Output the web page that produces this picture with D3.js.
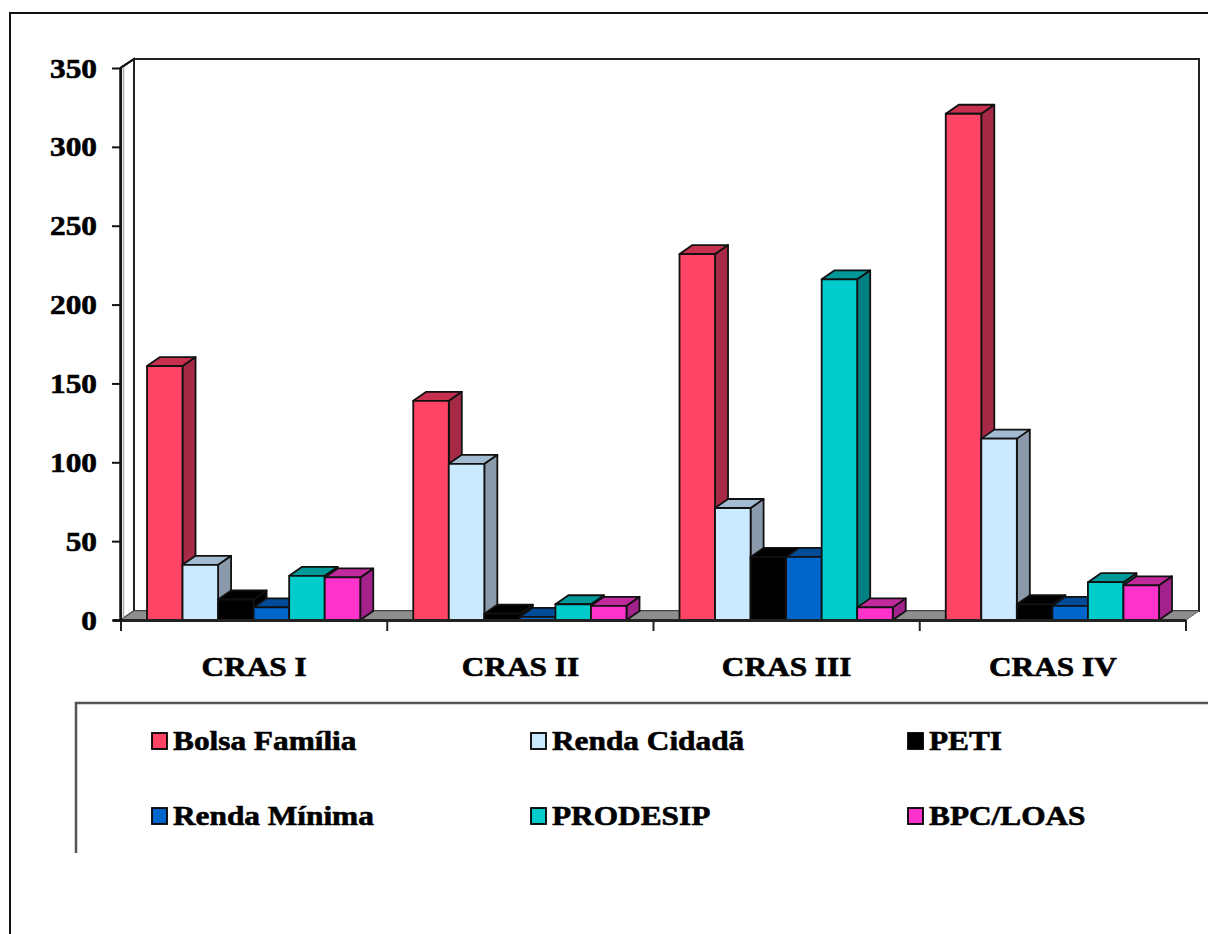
<!DOCTYPE html>
<html lang="pt">
<head>
    <meta charset="UTF-8">
    <title>CRAS - Programas</title>
    <script src="https://cdnjs.cloudflare.com/ajax/libs/d3/7.8.5/d3.min.js"></script>
    <style>
        * { margin: 0; padding: 0; box-sizing: border-box; }
        body { background: #fff; }
        text {
            font-family: "Liberation Serif", "Times New Roman", serif;
            font-weight: bold;
            font-size: 27px;
            fill: #000;
            stroke: #000;
            stroke-width: 0.6px;
        }
    </style>
</head>
<body>
    <div id="chart"></div>
    <script>
        // data
        const categories = ["CRAS I", "CRAS II", "CRAS III", "CRAS IV"];
        const seriesNames = ["Bolsa Família", "Renda Cidadã", "PETI", "Renda Mínima", "PRODESIP", "BPC/LOAS"];
        const bolsaFamilia = [161, 139, 232, 321];
        const rendaCidada = [35, 99, 71, 115];
        const peti = [13, 4, 40, 10];
        const rendaMinima = [8, 2, 40, 9];
        const prodesip = [28, 10, 216, 24];
        const bpcLoas = [27, 9, 8, 22];
        const yTicks = [0, 50, 100, 150, 200, 250, 300, 350];

        const seriesValues = [bolsaFamilia, rendaCidada, peti, rendaMinima, prodesip, bpcLoas];
        const frontColors = ["#ff4466", "#cceaff", "#000000", "#0066cc", "#00cccc", "#ff33cc"];
        const topColors = ["#c8304f", "#a3bbd0", "#000000", "#004c99", "#009999", "#c02a9c"];
        const sideColors = ["#a62a45", "#8a9aaa", "#000000", "#004080", "#008080", "#a3218a"];

        const W = 1208, H = 934;
        const DX = 13, DY = 9;   // 3d depth offset
        const SX = 1.16;         // text is drawn a bit wide

        const svg = d3.select('#chart').append('svg')
            .attr('width', W)
            .attr('height', H);

        svg.append('rect').attr('width', W).attr('height', H).attr('fill', '#fff');

        // outer frame
        svg.append('path')
            .attr('d', `M10,${H} V13 H${W}`)
            .attr('fill', 'none')
            .attr('stroke', '#111')
            .attr('stroke-width', 2);

        const x0 = d3.scaleBand().domain(categories).range([121, 1186]);
        const x1 = d3.scaleBand().domain(seriesNames).range([26, x0.bandwidth() - 27]);
        const y = d3.scaleLinear().domain([0, 350]).range([620, 68]);

        const xL = x0.range()[0], xR = x0.range()[1];
        const y0 = y(0), yTop = y(350);

        // back wall
        svg.append('rect')
            .attr('x', xL + DX)
            .attr('y', yTop - DY)
            .attr('width', xR - xL)
            .attr('height', y0 - yTop)
            .attr('fill', '#fff')
            .attr('stroke', '#222')
            .attr('stroke-width', 2);

        // left wall
        svg.append('path')
            .attr('d', `M${xL},${y0} V${yTop} L${xL + DX},${yTop - DY} V${y0 - DY} Z`)
            .attr('fill', '#fff')
            .attr('stroke', '#222')
            .attr('stroke-width', 2);
        svg.append('line')
            .attr('x1', xL + 2.5).attr('x2', xL + 2.5)
            .attr('y1', yTop - 1).attr('y2', y0 - 2)
            .attr('stroke', '#aaa')
            .attr('stroke-width', 1.5);

        // floor
        svg.append('path')
            .attr('d', `M${xL},${y0} H${xR} L${xR + DX},${y0 - DY} H${xL + DX} Z`)
            .attr('fill', '#8e8e8e')
            .attr('stroke', '#666')
            .attr('stroke-width', 1);

        // bars
        const groups = svg.selectAll('.cat')
            .data(categories)
            .enter()
            .append('g')
            .attr('class', 'cat')
            .attr('transform', d => `translate(${x0(d)},0)`);

        const bars = groups.selectAll('.bar')
            .data((c, ci) => seriesNames.map((s, si) => ({ s, si, v: seriesValues[si][ci] })))
            .enter()
            .append('g')
            .attr('class', 'bar')
            .attr('stroke', '#111')
            .attr('stroke-width', 1.8)
            .attr('stroke-linejoin', 'round');

        const bw = x1.bandwidth();

        bars.append('path')
            .attr('fill', d => sideColors[d.si])
            .attr('d', d => {
                const xr = x1(d.s) + bw, yt = y(d.v);
                return `M${xr},${yt} l${DX},${-DY} V${y0 - DY} l${-DX},${DY} Z`;
            });

        bars.append('path')
            .attr('fill', d => topColors[d.si])
            .attr('d', d => {
                const xl = x1(d.s), yt = y(d.v);
                return `M${xl},${yt} l${DX},${-DY} h${bw} l${-DX},${DY} Z`;
            });

        bars.append('rect')
            .attr('fill', d => frontColors[d.si])
            .attr('x', d => x1(d.s))
            .attr('y', d => y(d.v))
            .attr('width', bw)
            .attr('height', d => y0 - y(d.v));

        // front baseline
        svg.append('line')
            .attr('x1', xL - 8).attr('x2', xR)
            .attr('y1', y0 + 0.5).attr('y2', y0 + 0.5)
            .attr('stroke', '#222')
            .attr('stroke-width', 3);

        // category boundary ticks
        svg.selectAll('.ctick')
            .data(categories.map(c => x0(c)).concat([xR]))
            .enter()
            .append('line')
            .attr('x1', d => d).attr('x2', d => d)
            .attr('y1', y0).attr('y2', y0 + 11)
            .attr('stroke', '#222')
            .attr('stroke-width', 2);

        const fontStyle = sel => sel
            .attr('fill', '#000')
            .style('font-size', '27px')
            .style('font-family', '"Liberation Serif", "Times New Roman", serif')
            .style('font-weight', 'bold')
            .style('stroke', '#000')
            .style('stroke-width', '0.6px');

        // category labels
        const xAxis = svg.append('g')
            .attr('transform', `translate(0,${y0})`)
            .call(d3.axisBottom(x0).tickSize(0).tickPadding(0));
        xAxis.select('.domain').remove();
        xAxis.selectAll('text')
            .attr('y', 0)
            .attr('dy', 0)
            .attr('transform', `translate(0,56) scale(${SX},1)`)
            .call(fontStyle);

        // y axis
        const yAxis = svg.append('g')
            .attr('transform', `translate(${xL - 1},0)`)
            .call(d3.axisLeft(y).tickValues(yTicks).tickSize(8).tickSizeOuter(0));
        yAxis.select('.domain').attr('stroke', '#111').attr('stroke-width', 2.5);
        yAxis.selectAll('line').attr('stroke', '#111').attr('stroke-width', 2);
        yAxis.selectAll('text')
            .attr('x', 0)
            .attr('dy', 0)
            .attr('transform', `translate(-23,9) scale(${SX},1)`)
            .call(fontStyle);

        // top corner of left wall
        svg.append('path')
            .attr('d', `M${xL - 1},${yTop} L${xL + DX},${yTop - DY}`)
            .attr('stroke', '#111')
            .attr('stroke-width', 2);

        // legend
        const legendCols = [152, 531, 908];
        const legendRows = [741, 816];

        svg.append('path')
            .attr('d', `M76,853 V703 H${W}`)
            .attr('fill', 'none')
            .attr('stroke', '#555')
            .attr('stroke-width', 2.5);

        const legend = svg.selectAll('.leg')
            .data(seriesNames)
            .enter()
            .append('g')
            .attr('class', 'leg')
            .attr('transform', (d, i) => `translate(${legendCols[i % 3]},${legendRows[Math.floor(i / 3)]})`);

        legend.append('rect')
            .attr('x', 0).attr('y', -8)
            .attr('width', 15).attr('height', 16)
            .attr('fill', (d, i) => frontColors[i])
            .attr('stroke', '#000')
            .attr('stroke-width', 1.8);

        legend.append('text')
            .attr('transform', `translate(21,9) scale(${SX},1)`)
            .text(d => d);
    </script>
</body>
</html>
